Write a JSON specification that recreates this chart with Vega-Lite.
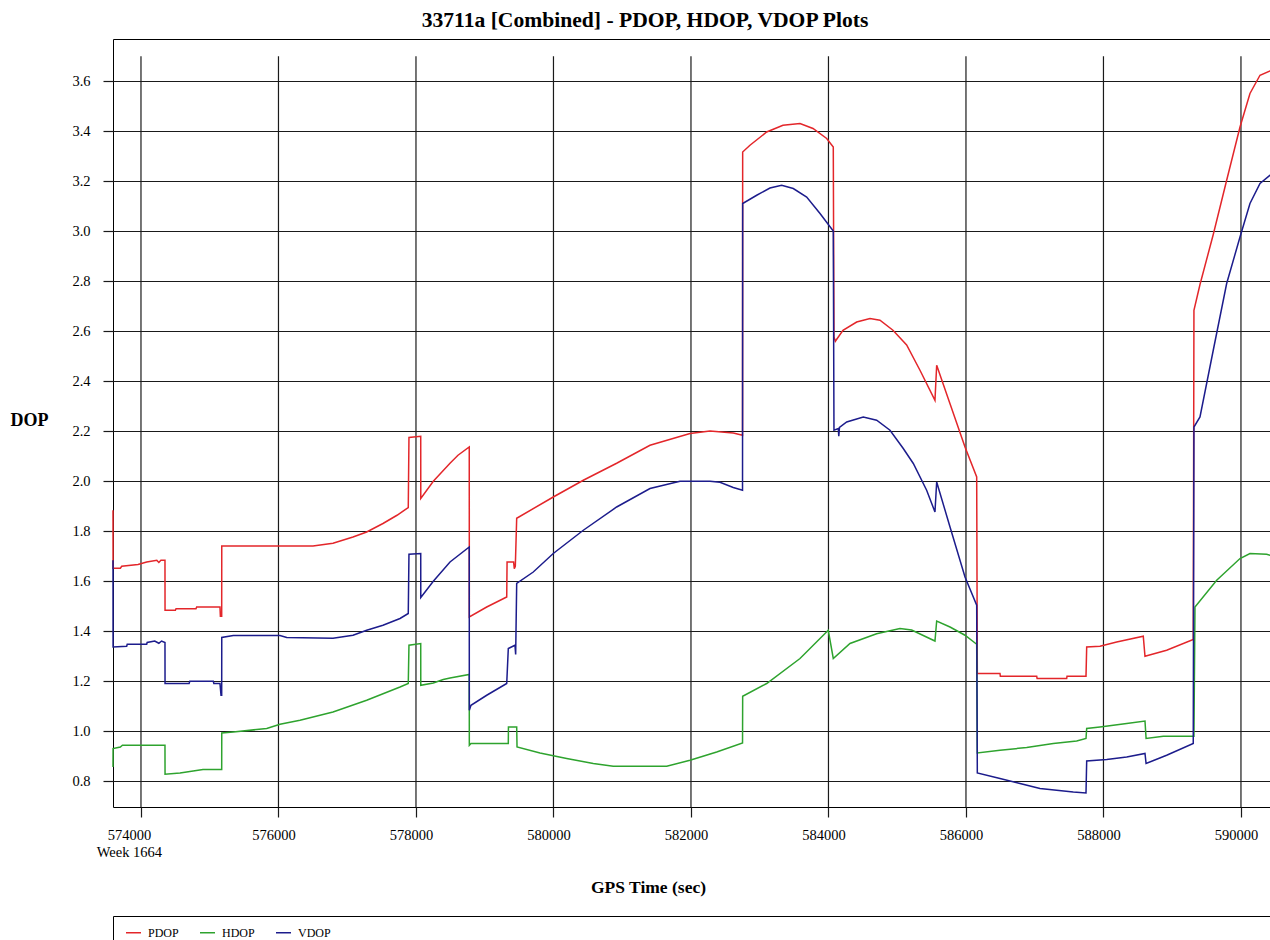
{
  "$schema": "https://vega.github.io/schema/vega-lite/v6.json",
  "autosize": "none",
  "width": 1160,
  "height": 768,
  "padding": {"left": 113, "top": 39, "right": 0, "bottom": 133},
  "background": "white",
  "config": {
    "font": "Liberation Serif",
    "view": {"stroke": "black", "strokeWidth": 1}
  },
  "title": {
    "text": "33711a [Combined] - PDOP, HDOP, VDOP Plots",
    "font": "Liberation Serif",
    "fontSize": 21.6,
    "fontWeight": "bold",
    "color": "black",
    "anchor": "middle",
    "frame": "group",
    "dx": -48,
    "dy": 22,
    "baseline": "alphabetic",
    "offset": 12
  },
  "datasets": {
    "ticks": [
      {"t": 574000}, {"t": 576000}, {"t": 578000}, {"t": 580000}, {"t": 582000},
      {"t": 584000}, {"t": 586000}, {"t": 588000}, {"t": 590000}
    ],
    "dop": [
      {"series": "PDOP", "t": 573593, "dop": 1.884},
      {"series": "PDOP", "t": 573594, "dop": 1.652},
      {"series": "PDOP", "t": 573700, "dop": 1.652},
      {"series": "PDOP", "t": 573720, "dop": 1.660},
      {"series": "PDOP", "t": 573957, "dop": 1.667},
      {"series": "PDOP", "t": 574083, "dop": 1.677},
      {"series": "PDOP", "t": 574230, "dop": 1.684},
      {"series": "PDOP", "t": 574260, "dop": 1.675},
      {"series": "PDOP", "t": 574290, "dop": 1.684},
      {"series": "PDOP", "t": 574349, "dop": 1.684},
      {"series": "PDOP", "t": 574350, "dop": 1.484},
      {"series": "PDOP", "t": 574500, "dop": 1.484},
      {"series": "PDOP", "t": 574510, "dop": 1.490},
      {"series": "PDOP", "t": 574800, "dop": 1.490},
      {"series": "PDOP", "t": 574810, "dop": 1.497},
      {"series": "PDOP", "t": 575149, "dop": 1.497},
      {"series": "PDOP", "t": 575155, "dop": 1.460},
      {"series": "PDOP", "t": 575174, "dop": 1.460},
      {"series": "PDOP", "t": 575175, "dop": 1.741},
      {"series": "PDOP", "t": 576502, "dop": 1.741},
      {"series": "PDOP", "t": 576793, "dop": 1.752},
      {"series": "PDOP", "t": 577084, "dop": 1.777},
      {"series": "PDOP", "t": 577283, "dop": 1.797},
      {"series": "PDOP", "t": 577520, "dop": 1.831},
      {"series": "PDOP", "t": 577724, "dop": 1.864},
      {"series": "PDOP", "t": 577888, "dop": 1.895},
      {"series": "PDOP", "t": 577898, "dop": 2.175},
      {"series": "PDOP", "t": 578069, "dop": 2.180},
      {"series": "PDOP", "t": 578070, "dop": 1.931},
      {"series": "PDOP", "t": 578252, "dop": 2.000},
      {"series": "PDOP", "t": 578495, "dop": 2.072},
      {"series": "PDOP", "t": 578611, "dop": 2.104},
      {"series": "PDOP", "t": 578775, "dop": 2.137},
      {"series": "PDOP", "t": 578776, "dop": 1.457},
      {"series": "PDOP", "t": 579029, "dop": 1.497},
      {"series": "PDOP", "t": 579320, "dop": 1.537},
      {"series": "PDOP", "t": 579325, "dop": 1.677},
      {"series": "PDOP", "t": 579420, "dop": 1.677},
      {"series": "PDOP", "t": 579430, "dop": 1.650},
      {"series": "PDOP", "t": 579445, "dop": 1.660},
      {"series": "PDOP", "t": 579465, "dop": 1.852},
      {"series": "PDOP", "t": 579997, "dop": 1.937},
      {"series": "PDOP", "t": 580434, "dop": 2.004},
      {"series": "PDOP", "t": 580919, "dop": 2.072},
      {"series": "PDOP", "t": 581404, "dop": 2.144},
      {"series": "PDOP", "t": 581986, "dop": 2.191},
      {"series": "PDOP", "t": 582277, "dop": 2.201},
      {"series": "PDOP", "t": 582615, "dop": 2.193},
      {"series": "PDOP", "t": 582750, "dop": 2.184},
      {"series": "PDOP", "t": 582752, "dop": 3.317},
      {"series": "PDOP", "t": 582858, "dop": 3.344},
      {"series": "PDOP", "t": 583101, "dop": 3.397},
      {"series": "PDOP", "t": 583338, "dop": 3.424},
      {"series": "PDOP", "t": 583586, "dop": 3.431},
      {"series": "PDOP", "t": 583775, "dop": 3.411},
      {"series": "PDOP", "t": 583974, "dop": 3.371},
      {"series": "PDOP", "t": 584070, "dop": 3.337},
      {"series": "PDOP", "t": 584080, "dop": 2.577},
      {"series": "PDOP", "t": 584100, "dop": 2.560},
      {"series": "PDOP", "t": 584211, "dop": 2.604},
      {"series": "PDOP", "t": 584410, "dop": 2.637},
      {"series": "PDOP", "t": 584604, "dop": 2.651},
      {"series": "PDOP", "t": 584749, "dop": 2.644},
      {"series": "PDOP", "t": 584938, "dop": 2.604},
      {"series": "PDOP", "t": 585137, "dop": 2.545},
      {"series": "PDOP", "t": 585331, "dop": 2.444},
      {"series": "PDOP", "t": 585549, "dop": 2.324},
      {"series": "PDOP", "t": 585574, "dop": 2.464},
      {"series": "PDOP", "t": 585768, "dop": 2.310},
      {"series": "PDOP", "t": 585986, "dop": 2.137},
      {"series": "PDOP", "t": 586156, "dop": 2.017},
      {"series": "PDOP", "t": 586165, "dop": 1.231},
      {"series": "PDOP", "t": 586495, "dop": 1.231},
      {"series": "PDOP", "t": 586500, "dop": 1.220},
      {"series": "PDOP", "t": 587029, "dop": 1.220},
      {"series": "PDOP", "t": 587035, "dop": 1.211},
      {"series": "PDOP", "t": 587465, "dop": 1.211},
      {"series": "PDOP", "t": 587470, "dop": 1.220},
      {"series": "PDOP", "t": 587746, "dop": 1.220},
      {"series": "PDOP", "t": 587756, "dop": 1.337},
      {"series": "PDOP", "t": 587949, "dop": 1.340},
      {"series": "PDOP", "t": 588192, "dop": 1.357},
      {"series": "PDOP", "t": 588579, "dop": 1.380},
      {"series": "PDOP", "t": 588604, "dop": 1.300},
      {"series": "PDOP", "t": 588919, "dop": 1.324},
      {"series": "PDOP", "t": 589306, "dop": 1.367},
      {"series": "PDOP", "t": 589316, "dop": 2.684},
      {"series": "PDOP", "t": 589404, "dop": 2.787},
      {"series": "PDOP", "t": 589597, "dop": 2.987},
      {"series": "PDOP", "t": 589792, "dop": 3.204},
      {"series": "PDOP", "t": 589986, "dop": 3.417},
      {"series": "PDOP", "t": 590131, "dop": 3.551},
      {"series": "PDOP", "t": 590277, "dop": 3.624},
      {"series": "PDOP", "t": 590422, "dop": 3.641},
      {"series": "PDOP", "t": 590466, "dop": 3.642},

      {"series": "HDOP", "t": 573593, "dop": 0.857},
      {"series": "HDOP", "t": 573594, "dop": 0.931},
      {"series": "HDOP", "t": 573700, "dop": 0.937},
      {"series": "HDOP", "t": 573730, "dop": 0.944},
      {"series": "HDOP", "t": 574349, "dop": 0.944},
      {"series": "HDOP", "t": 574350, "dop": 0.828},
      {"series": "HDOP", "t": 574568, "dop": 0.833},
      {"series": "HDOP", "t": 574902, "dop": 0.847},
      {"series": "HDOP", "t": 575174, "dop": 0.847},
      {"series": "HDOP", "t": 575175, "dop": 0.993},
      {"series": "HDOP", "t": 575343, "dop": 0.997},
      {"series": "HDOP", "t": 575829, "dop": 1.011},
      {"series": "HDOP", "t": 576022, "dop": 1.028},
      {"series": "HDOP", "t": 576313, "dop": 1.044},
      {"series": "HDOP", "t": 576793, "dop": 1.077},
      {"series": "HDOP", "t": 577283, "dop": 1.124},
      {"series": "HDOP", "t": 577768, "dop": 1.177},
      {"series": "HDOP", "t": 577888, "dop": 1.191},
      {"series": "HDOP", "t": 577898, "dop": 1.344},
      {"series": "HDOP", "t": 578069, "dop": 1.351},
      {"series": "HDOP", "t": 578070, "dop": 1.184},
      {"series": "HDOP", "t": 578252, "dop": 1.193},
      {"series": "HDOP", "t": 578397, "dop": 1.207},
      {"series": "HDOP", "t": 578495, "dop": 1.213},
      {"series": "HDOP", "t": 578775, "dop": 1.227},
      {"series": "HDOP", "t": 578776, "dop": 0.944},
      {"series": "HDOP", "t": 578800, "dop": 0.951},
      {"series": "HDOP", "t": 579343, "dop": 0.951},
      {"series": "HDOP", "t": 579345, "dop": 1.017},
      {"series": "HDOP", "t": 579465, "dop": 1.017},
      {"series": "HDOP", "t": 579470, "dop": 0.937},
      {"series": "HDOP", "t": 579804, "dop": 0.913},
      {"series": "HDOP", "t": 580192, "dop": 0.891},
      {"series": "HDOP", "t": 580579, "dop": 0.871},
      {"series": "HDOP", "t": 580870, "dop": 0.860},
      {"series": "HDOP", "t": 581647, "dop": 0.860},
      {"series": "HDOP", "t": 581986, "dop": 0.884},
      {"series": "HDOP", "t": 582374, "dop": 0.917},
      {"series": "HDOP", "t": 582750, "dop": 0.953},
      {"series": "HDOP", "t": 582752, "dop": 1.140},
      {"series": "HDOP", "t": 583101, "dop": 1.191},
      {"series": "HDOP", "t": 583586, "dop": 1.291},
      {"series": "HDOP", "t": 583997, "dop": 1.404},
      {"series": "HDOP", "t": 584070, "dop": 1.291},
      {"series": "HDOP", "t": 584313, "dop": 1.351},
      {"series": "HDOP", "t": 584700, "dop": 1.390},
      {"series": "HDOP", "t": 585040, "dop": 1.411},
      {"series": "HDOP", "t": 585210, "dop": 1.405},
      {"series": "HDOP", "t": 585549, "dop": 1.361},
      {"series": "HDOP", "t": 585574, "dop": 1.441},
      {"series": "HDOP", "t": 585768, "dop": 1.417},
      {"series": "HDOP", "t": 585986, "dop": 1.384},
      {"series": "HDOP", "t": 586156, "dop": 1.348},
      {"series": "HDOP", "t": 586165, "dop": 0.913},
      {"series": "HDOP", "t": 586495, "dop": 0.924},
      {"series": "HDOP", "t": 586883, "dop": 0.935},
      {"series": "HDOP", "t": 587270, "dop": 0.951},
      {"series": "HDOP", "t": 587610, "dop": 0.961},
      {"series": "HDOP", "t": 587746, "dop": 0.971},
      {"series": "HDOP", "t": 587756, "dop": 1.011},
      {"series": "HDOP", "t": 587949, "dop": 1.017},
      {"series": "HDOP", "t": 588338, "dop": 1.031},
      {"series": "HDOP", "t": 588604, "dop": 1.041},
      {"series": "HDOP", "t": 588620, "dop": 0.971},
      {"series": "HDOP", "t": 588870, "dop": 0.980},
      {"series": "HDOP", "t": 589316, "dop": 0.980},
      {"series": "HDOP", "t": 589331, "dop": 1.497},
      {"series": "HDOP", "t": 589647, "dop": 1.604},
      {"series": "HDOP", "t": 589986, "dop": 1.691},
      {"series": "HDOP", "t": 590131, "dop": 1.711},
      {"series": "HDOP", "t": 590374, "dop": 1.708},
      {"series": "HDOP", "t": 590466, "dop": 1.700},

      {"series": "VDOP", "t": 573593, "dop": 1.684},
      {"series": "VDOP", "t": 573594, "dop": 1.337},
      {"series": "VDOP", "t": 573792, "dop": 1.340},
      {"series": "VDOP", "t": 573800, "dop": 1.348},
      {"series": "VDOP", "t": 574083, "dop": 1.348},
      {"series": "VDOP", "t": 574090, "dop": 1.355},
      {"series": "VDOP", "t": 574200, "dop": 1.361},
      {"series": "VDOP", "t": 574260, "dop": 1.352},
      {"series": "VDOP", "t": 574300, "dop": 1.361},
      {"series": "VDOP", "t": 574349, "dop": 1.355},
      {"series": "VDOP", "t": 574350, "dop": 1.191},
      {"series": "VDOP", "t": 574700, "dop": 1.191},
      {"series": "VDOP", "t": 574710, "dop": 1.200},
      {"series": "VDOP", "t": 575052, "dop": 1.200},
      {"series": "VDOP", "t": 575060, "dop": 1.191},
      {"series": "VDOP", "t": 575149, "dop": 1.191},
      {"series": "VDOP", "t": 575164, "dop": 1.144},
      {"series": "VDOP", "t": 575174, "dop": 1.144},
      {"series": "VDOP", "t": 575175, "dop": 1.375},
      {"series": "VDOP", "t": 575343, "dop": 1.383},
      {"series": "VDOP", "t": 576022, "dop": 1.383},
      {"series": "VDOP", "t": 576120, "dop": 1.375},
      {"series": "VDOP", "t": 576793, "dop": 1.372},
      {"series": "VDOP", "t": 577084, "dop": 1.384},
      {"series": "VDOP", "t": 577283, "dop": 1.404},
      {"series": "VDOP", "t": 577520, "dop": 1.424},
      {"series": "VDOP", "t": 577768, "dop": 1.451},
      {"series": "VDOP", "t": 577888, "dop": 1.471},
      {"series": "VDOP", "t": 577898, "dop": 1.708},
      {"series": "VDOP", "t": 578069, "dop": 1.711},
      {"series": "VDOP", "t": 578070, "dop": 1.535},
      {"series": "VDOP", "t": 578252, "dop": 1.600},
      {"series": "VDOP", "t": 578495, "dop": 1.677},
      {"series": "VDOP", "t": 578775, "dop": 1.737},
      {"series": "VDOP", "t": 578776, "dop": 1.084},
      {"series": "VDOP", "t": 578800, "dop": 1.104},
      {"series": "VDOP", "t": 579029, "dop": 1.144},
      {"series": "VDOP", "t": 579320, "dop": 1.191},
      {"series": "VDOP", "t": 579343, "dop": 1.331},
      {"series": "VDOP", "t": 579440, "dop": 1.344},
      {"series": "VDOP", "t": 579450, "dop": 1.307},
      {"series": "VDOP", "t": 579465, "dop": 1.591},
      {"series": "VDOP", "t": 579706, "dop": 1.637},
      {"series": "VDOP", "t": 579997, "dop": 1.711},
      {"series": "VDOP", "t": 580434, "dop": 1.804},
      {"series": "VDOP", "t": 580919, "dop": 1.897},
      {"series": "VDOP", "t": 581404, "dop": 1.971},
      {"series": "VDOP", "t": 581840, "dop": 2.000},
      {"series": "VDOP", "t": 582277, "dop": 2.000},
      {"series": "VDOP", "t": 582422, "dop": 1.996},
      {"series": "VDOP", "t": 582615, "dop": 1.975},
      {"series": "VDOP", "t": 582750, "dop": 1.964},
      {"series": "VDOP", "t": 582752, "dop": 3.111},
      {"series": "VDOP", "t": 582956, "dop": 3.144},
      {"series": "VDOP", "t": 583149, "dop": 3.173},
      {"series": "VDOP", "t": 583319, "dop": 3.184},
      {"series": "VDOP", "t": 583488, "dop": 3.171},
      {"series": "VDOP", "t": 583683, "dop": 3.137},
      {"series": "VDOP", "t": 583877, "dop": 3.071},
      {"series": "VDOP", "t": 584070, "dop": 3.001},
      {"series": "VDOP", "t": 584080, "dop": 2.204},
      {"series": "VDOP", "t": 584143, "dop": 2.211},
      {"series": "VDOP", "t": 584150, "dop": 2.180},
      {"series": "VDOP", "t": 584160, "dop": 2.215},
      {"series": "VDOP", "t": 584265, "dop": 2.237},
      {"series": "VDOP", "t": 584506, "dop": 2.257},
      {"series": "VDOP", "t": 584701, "dop": 2.244},
      {"series": "VDOP", "t": 584895, "dop": 2.204},
      {"series": "VDOP", "t": 585088, "dop": 2.131},
      {"series": "VDOP", "t": 585234, "dop": 2.071},
      {"series": "VDOP", "t": 585428, "dop": 1.964},
      {"series": "VDOP", "t": 585549, "dop": 1.877},
      {"series": "VDOP", "t": 585574, "dop": 1.997},
      {"series": "VDOP", "t": 585768, "dop": 1.817},
      {"series": "VDOP", "t": 585986, "dop": 1.617},
      {"series": "VDOP", "t": 586156, "dop": 1.504},
      {"series": "VDOP", "t": 586165, "dop": 0.833},
      {"series": "VDOP", "t": 586495, "dop": 0.811},
      {"series": "VDOP", "t": 586786, "dop": 0.791},
      {"series": "VDOP", "t": 587077, "dop": 0.771},
      {"series": "VDOP", "t": 587561, "dop": 0.757},
      {"series": "VDOP", "t": 587746, "dop": 0.753},
      {"series": "VDOP", "t": 587756, "dop": 0.881},
      {"series": "VDOP", "t": 588047, "dop": 0.887},
      {"series": "VDOP", "t": 588338, "dop": 0.897},
      {"series": "VDOP", "t": 588604, "dop": 0.911},
      {"series": "VDOP", "t": 588620, "dop": 0.871},
      {"series": "VDOP", "t": 588919, "dop": 0.904},
      {"series": "VDOP", "t": 589306, "dop": 0.951},
      {"series": "VDOP", "t": 589316, "dop": 2.217},
      {"series": "VDOP", "t": 589404, "dop": 2.257},
      {"series": "VDOP", "t": 589597, "dop": 2.524},
      {"series": "VDOP", "t": 589792, "dop": 2.791},
      {"series": "VDOP", "t": 589986, "dop": 2.977},
      {"series": "VDOP", "t": 590131, "dop": 3.111},
      {"series": "VDOP", "t": 590277, "dop": 3.191},
      {"series": "VDOP", "t": 590422, "dop": 3.224},
      {"series": "VDOP", "t": 590466, "dop": 3.226}
    ]
  },
  "layer": [
    {
      "data": {"name": "ticks"},
      "mark": {"type": "rule", "color": "#1a1a1a", "strokeWidth": 1.2},
      "encoding": {
        "x": {
          "field": "t",
          "type": "quantitative",
          "scale": {"domain": [573593, 590466], "nice": false, "zero": false},
          "axis": {
            "values": [574000, 576000, 578000, 580000, 582000, 584000, 586000, 588000, 590000],
            "format": "d",
            "grid": false,
            "domain": false,
            "ticks": true,
            "tickSize": 10,
            "tickColor": "#1a1a1a",
            "tickWidth": 1.2,
            "labelFont": "Liberation Serif",
            "labelFontSize": 14.5,
            "labelColor": "black",
            "labelPadding": 11,
            "labelLineHeight": 17,
            "labelBaseline": "top",
            "labelOffset": {"condition": {"test": "datum.value == 574000", "value": -12}, "value": -5},
            "labelExpr": "datum.value == 574000 ? ['574000', 'Week 1664'] : datum.label",
            "labelOverlap": false,
            "title": "GPS Time (sec)",
            "titleFont": "Liberation Serif",
            "titleFontSize": 17.5,
            "titleFontWeight": "bold",
            "titleColor": "black",
            "titleX": 535,
            "titleY": 80,
            "titleAlign": "center",
            "titleBaseline": "middle"
          }
        },
        "y": {"datum": 0.697},
        "y2": {"datum": 3.7}
      }
    },
    {
      "data": {"name": "dop"},
      "mark": {"type": "line", "strokeWidth": 1.5, "interpolate": "linear"},
      "encoding": {
        "x": {"field": "t", "type": "quantitative"},
        "y": {
          "field": "dop",
          "type": "quantitative",
          "scale": {"domain": [0.697, 3.769], "nice": false, "zero": false},
          "axis": {
            "values": [0.8, 1.0, 1.2, 1.4, 1.6, 1.8, 2.0, 2.2, 2.4, 2.6, 2.8, 3.0, 3.2, 3.4, 3.6],
            "format": ".1f",
            "grid": true,
            "gridColor": "#1a1a1a",
            "gridWidth": 1.2,
            "gridOpacity": 1,
            "domain": false,
            "tickSize": 10,
            "tickColor": "#1a1a1a",
            "tickWidth": 1.2,
            "labelFont": "Liberation Serif",
            "labelFontSize": 14.5,
            "labelColor": "black",
            "labelPadding": 13,
            "title": "DOP",
            "titleFont": "Liberation Serif",
            "titleFontSize": 18,
            "titleFontWeight": "bold",
            "titleColor": "black",
            "titleAngle": 0,
            "titleX": -84,
            "titleY": 381,
            "titleAlign": "center",
            "titleBaseline": "middle"
          }
        },
        "color": {
          "field": "series",
          "type": "nominal",
          "scale": {"domain": ["PDOP", "HDOP", "VDOP"], "range": ["#e3262a", "#2ea32e", "#1c1c8c"]},
          "legend": {
            "orient": "none",
            "legendX": 0,
            "legendY": 877,
            "direction": "horizontal",
            "title": "\u2800",
            "titleOrient": "right",
            "titlePadding": 928,
            "titleFontSize": 12,
            "titleColor": "white",
            "symbolType": "stroke",
            "symbolSize": 225,
            "symbolStrokeWidth": 1.5,
            "symbolOffset": 4,
            "labelFont": "Liberation Serif",
            "labelFontSize": 12,
            "labelColor": "black",
            "labelOffset": 6,
            "columnPadding": 16,
            "padding": 8,
            "strokeColor": "black",
            "fillColor": "white"
          }
        }
      }
    },
    {
      "mark": {"type": "rule", "color": "black", "strokeWidth": 2.5},
      "encoding": {"y": {"datum": 3.7}}
    },
    {
      "mark": {"type": "rule", "color": "#1f7a50", "strokeWidth": 1.5},
      "encoding": {"x": {"datum": 573600}, "y": {"datum": 3.7}, "y2": {"datum": 3.769}}
    },
    {
      "mark": {"type": "rule", "color": "#2bb5a0", "strokeWidth": 1.2},
      "encoding": {"x": {"datum": 578611}, "y": {"datum": 3.7}, "y2": {"datum": 3.769}}
    },
    {
      "mark": {"type": "rule", "color": "#4a8fd0", "strokeWidth": 1.2},
      "encoding": {"x": {"datum": 584168}, "y": {"datum": 3.7}, "y2": {"datum": 3.769}}
    }
  ]
}
